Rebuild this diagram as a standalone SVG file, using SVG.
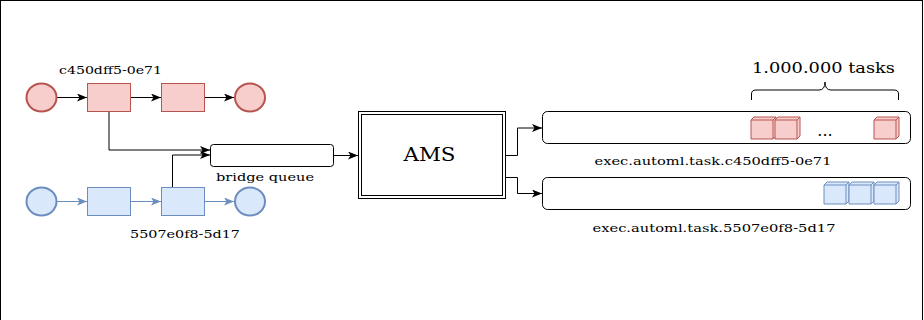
<svg xmlns="http://www.w3.org/2000/svg" width="924" height="320" viewBox="0 0 924 320">
<style>
text{font-family:"DejaVu Serif","Liberation Serif",serif;fill:#000}
.lbl{font-size:11px}
.lbl2{font-size:12px}
.red{fill:#f8cecc;stroke:#b85450;stroke-width:1}
.redE{fill:#f8cecc;stroke:#b85450;stroke-width:2}
.blue{fill:#dae8fc;stroke:#6c8ebf;stroke-width:1}
.blueE{fill:#dae8fc;stroke:#6c8ebf;stroke-width:2}
.c{fill:none;stroke:#000;stroke-width:1}
.cb{fill:none;stroke:#6c8ebf;stroke-width:1}
.box{fill:#fff;stroke:#000;stroke-width:1}
</style>
<defs>
<marker id="ah" markerUnits="userSpaceOnUse" markerWidth="12" markerHeight="10" refX="10" refY="4" orient="auto">
<path d="M0,0 L10,4 L0,8 L2.5,4 z" fill="#000"/>
</marker>
<marker id="ahb" markerUnits="userSpaceOnUse" markerWidth="12" markerHeight="10" refX="10" refY="4" orient="auto">
<path d="M0,0 L10,4 L0,8 L2.5,4 z" fill="#6c8ebf"/>
</marker>
<g id="cube">
<path d="M0,3 L3,0 L25,0 L25,19 L22,22 L0,22 Z"/>
<path d="M0,3 L22,3 L25,0 M22,3 L22,22" fill="none"/>
</g>
</defs>
<rect x="0.5" y="0.5" width="922" height="340" fill="#fff" stroke="#000"/>

<g id="connectors">
<line class="c" x1="57" y1="97.5" x2="87" y2="97.5" marker-end="url(#ah)"/>
<line class="c" x1="130" y1="97.5" x2="161" y2="97.5" marker-end="url(#ah)"/>
<line class="c" x1="204" y1="97.5" x2="234" y2="97.5" marker-end="url(#ah)"/>
<line class="cb" x1="57" y1="201.5" x2="87" y2="201.5" marker-end="url(#ahb)"/>
<line class="cb" x1="130" y1="201.5" x2="161" y2="201.5" marker-end="url(#ahb)"/>
<line class="cb" x1="204" y1="201.5" x2="234" y2="201.5" marker-end="url(#ahb)"/>
<polyline class="c" points="109,111 109,150 210,150" marker-end="url(#ah)"/>
<polyline class="c" points="172.5,187 172.5,155 210,155" marker-end="url(#ah)"/>
<line class="c" x1="333" y1="155.5" x2="358" y2="155.5" marker-end="url(#ah)"/>
<polyline class="c" points="505,155.5 517.5,155.5 517.5,128 542,128" marker-end="url(#ah)"/>
<polyline class="c" points="505,177.5 517.5,177.5 517.5,193.5 542,193.5" marker-end="url(#ah)"/>
</g>

<g id="red-start"><ellipse class="redE" cx="41.5" cy="97.5" rx="15" ry="14"/></g>
<g id="red-task1"><rect class="red" x="87.5" y="83.5" width="43" height="28"/></g>
<g id="red-task2"><rect class="red" x="161.5" y="83.5" width="43" height="28"/></g>
<g id="red-end"><ellipse class="redE" cx="250" cy="97.5" rx="15" ry="14"/></g>
<g id="red-label"><text class="lbl" x="59" y="74" textLength="103" lengthAdjust="spacingAndGlyphs">c450dff5-0e71</text></g>

<g id="blue-start"><ellipse class="blueE" cx="41.5" cy="201.5" rx="15" ry="14"/></g>
<g id="blue-task1"><rect class="blue" x="87.5" y="187.5" width="43" height="28"/></g>
<g id="blue-task2"><rect class="blue" x="161.5" y="187.5" width="43" height="28"/></g>
<g id="blue-end"><ellipse class="blueE" cx="250" cy="201.5" rx="15" ry="14"/></g>
<g id="blue-label"><text class="lbl" x="130" y="238" textLength="110" lengthAdjust="spacingAndGlyphs">5507e0f8-5d17</text></g>

<g id="bridge-queue">
<rect class="box" x="210.5" y="144.5" width="123" height="22" rx="3"/>
<text class="lbl" x="216" y="181" textLength="98" lengthAdjust="spacingAndGlyphs">bridge queue</text>
</g>

<g id="ams">
<rect class="box" x="358.5" y="111.5" width="147" height="87"/>
<rect class="box" x="361.5" y="114.5" width="141" height="81"/>
<text x="403.5" y="161" font-size="18" textLength="52" lengthAdjust="spacingAndGlyphs">AMS</text>
</g>

<g id="queue-c450">
<rect class="box" x="542.5" y="111.5" width="368" height="32" rx="5"/>
<use href="#cube" class="red" x="751" y="117"/>
<use href="#cube" class="red" x="775" y="117"/>
<use href="#cube" class="red" x="874" y="117"/>
<text x="825" y="136" text-anchor="middle" font-size="16">...</text>
<text class="lbl" x="594.5" y="164.5" textLength="237" lengthAdjust="spacingAndGlyphs">exec.automl.task.c450dff5-0e71</text>
</g>

<g id="queue-5507">
<rect class="box" x="542.5" y="177.5" width="368" height="32" rx="5"/>
<use href="#cube" class="blue" x="824" y="182"/>
<use href="#cube" class="blue" x="849" y="182"/>
<use href="#cube" class="blue" x="874" y="182"/>
<text class="lbl" x="592.5" y="231.5" textLength="243" lengthAdjust="spacingAndGlyphs">exec.automl.task.5507e0f8-5d17</text>
</g>

<g id="brace">
<path class="c" d="M751.5,100 L751.5,94 Q751.5,90 756,90 L819,90 Q825,90 825,82 Q825,90 831,90 L894,90 Q898.5,90 898.5,94 L898.5,100"/>
<text x="752" y="72.5" font-size="14.5" textLength="143" lengthAdjust="spacingAndGlyphs">1.000.000 tasks</text>
</g>
</svg>
